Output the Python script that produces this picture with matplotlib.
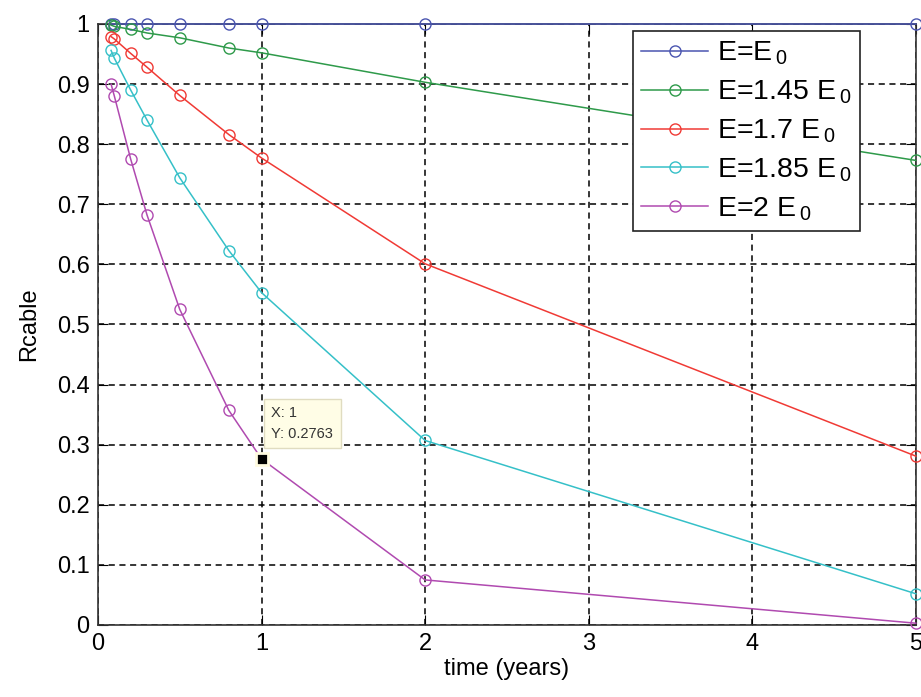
import matplotlib
matplotlib.use('Agg')
import matplotlib.pyplot as plt

plt.rcParams['font.family'] = ['Liberation Sans', 'DejaVu Sans']
plt.rcParams['mathtext.fontset'] = 'custom'
plt.rcParams['mathtext.rm'] = 'Liberation Sans'
plt.rcParams['mathtext.it'] = 'Liberation Sans'

# time points (years)
t = [0.08, 0.1, 0.2, 0.3, 0.5, 0.8, 1, 2, 5]

r_e0 = [1.0, 1.0, 1.0, 1.0, 1.0, 1.0, 1.0, 1.0, 1.0]
r_145 = [0.998, 0.996, 0.991, 0.985, 0.977, 0.96, 0.952, 0.903, 0.773]
r_17 = [0.979, 0.975, 0.951, 0.928, 0.881, 0.816, 0.777, 0.601, 0.281]
r_185 = [0.956, 0.943, 0.89, 0.84, 0.744, 0.623, 0.553, 0.307, 0.052]
r_2 = [0.90, 0.88, 0.775, 0.682, 0.525, 0.357, 0.2763, 0.075, 0.003]

labels = ['E=E$\\,_0$', 'E=1.45 E$\\,_0$', 'E=1.7 E$\\,_0$', 'E=1.85 E$\\,_0$', 'E=2 E$\\,_0$']
colors = ['#4a55b0', '#2e9a4a', '#f03a35', '#35c0c8', '#b04ab0']

fig = plt.figure(figsize=(9.21, 6.97), dpi=100)
ax = fig.add_axes([0.1064, 0.1033, 0.888, 0.8623])

for y, lab, c in zip([r_e0, r_145, r_17, r_185, r_2], labels, colors):
    ax.plot(t, y, '-o', color=c, label=lab, lw=1.1, ms=8,
            markerfacecolor='none', markeredgewidth=1.0, clip_on=False, zorder=3)

ax.set_xlim(0, 5)
ax.set_ylim(0, 1)
ax.set_xticks([0, 1, 2, 3, 4, 5])
ax.set_yticks([i / 10 for i in range(11)])
ax.set_yticklabels(['0', '0.1', '0.2', '0.3', '0.4', '0.5', '0.6', '0.7', '0.8', '0.9', '1'])
ax.grid(True, color='black', linestyle=(0, (4, 3)), lw=1.1)
ax.tick_params(direction='in', top=True, right=True, labelsize=17, length=7, pad=6)
for s in ax.spines.values():
    s.set_color('#333333')
    s.set_linewidth(1.2)

ax.set_xlabel('time (years)', fontsize=17, labelpad=2)
ax.set_ylabel('Rcable', fontsize=17, labelpad=12)

# data tip
ax.plot([1], [0.2763], 's', color='black', ms=8, zorder=5,
        markeredgecolor='#fffbe0', markeredgewidth=2)
ax.text(1.06, 0.335, 'X: 1\nY: 0.2763', fontsize=10.5, color='#333333',
        va='center', ha='left', zorder=6, linespacing=1.6,
        bbox=dict(boxstyle='square,pad=0.5', fc='#fffde6', ec='#e0dcc0', lw=1))

leg = ax.legend(loc='upper right', bbox_to_anchor=(0.9315, 0.988), borderaxespad=0,
                fontsize=20.5, fancybox=False, edgecolor='#222222', framealpha=1,
                handlelength=2.35, borderpad=0.3, labelspacing=0.4, handletextpad=0.3)
leg.get_frame().set_linewidth(1.2)

fig.savefig('out.png', dpi=100)
